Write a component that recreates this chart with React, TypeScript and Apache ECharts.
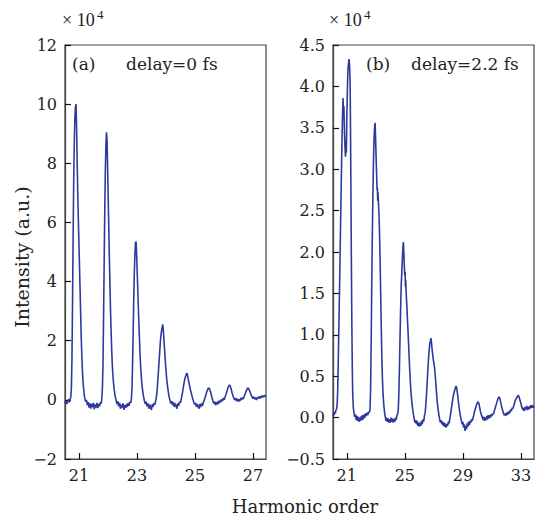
import React, { useEffect, useRef } from "react";
import * as echarts from "echarts";

// Panel (a): delay = 0 fs  — [harmonic order, intensity ×10^4]
const spectrumA: [number, number][] = [
  [20.52,-0.12],[20.55,-0.04],[20.58,-0.14],[20.61,-0.06],[20.64,0.02],[20.67,-0.08],[20.70,0.04],[20.72,0.1],[20.74,0.4],[20.76,1.4],
  [20.78,3.3],[20.80,5.5],[20.82,7.4],[20.84,8.7],[20.86,9.5],[20.88,9.9],[20.90,10.0],[20.92,9.2],[20.94,8.0],[20.96,7.0],
  [20.98,6.1],[21.00,5.3],[21.02,4.5],[21.04,3.7],[21.06,2.9],[21.08,2.1],[21.10,1.5],[21.12,1.0],[21.14,0.65],[21.16,0.4],
  [21.18,0.2],[21.20,0.06],[21.23,-0.06],[21.26,0.0],[21.29,-0.18],[21.32,-0.08],[21.35,-0.26],[21.38,-0.12],[21.41,-0.3],[21.44,-0.14],
  [21.47,-0.24],[21.50,-0.1],[21.53,-0.32],[21.56,-0.16],[21.59,-0.26],[21.62,-0.1],[21.65,-0.28],[21.68,-0.14],[21.71,-0.22],[21.74,-0.08],
  [21.77,-0.12],[21.79,0.05],[21.81,0.4],[21.83,1.2],[21.85,2.8],[21.87,4.6],[21.89,6.3],[21.91,7.7],[21.93,8.6],[21.95,9.05],
  [21.97,8.8],[21.99,7.8],[22.01,6.8],[22.03,5.8],[22.05,4.8],[22.07,3.9],[22.09,3.0],[22.11,2.3],[22.13,1.7],[22.15,1.2],
  [22.17,0.85],[22.19,0.6],[22.21,0.4],[22.23,0.25],[22.25,0.12],[22.28,0.0],[22.31,-0.14],[22.34,-0.04],[22.37,-0.22],[22.40,-0.1],
  [22.43,-0.3],[22.46,-0.16],[22.49,-0.26],[22.52,-0.12],[22.55,-0.34],[22.58,-0.18],[22.61,-0.28],[22.64,-0.14],[22.67,-0.24],[22.70,-0.1],
  [22.73,-0.2],[22.76,-0.06],[22.79,-0.1],[22.81,0.05],[22.83,0.4],[22.85,1.2],[22.87,2.3],[22.89,3.4],[22.91,4.3],[22.93,4.9],
  [22.95,5.3],[22.97,5.35],[22.99,4.9],[23.01,4.3],[23.03,3.7],[23.05,3.1],[23.07,2.5],[23.09,2.0],[23.11,1.5],[23.13,1.1],
  [23.15,0.8],[23.17,0.55],[23.19,0.36],[23.21,0.22],[23.23,0.1],[23.26,-0.04],[23.29,-0.14],[23.32,-0.06],[23.35,-0.22],[23.38,-0.12],
  [23.41,-0.3],[23.44,-0.16],[23.47,-0.26],[23.50,-0.34],[23.53,-0.14],[23.56,-0.24],[23.59,-0.1],[23.62,-0.16],[23.65,-0.02],[23.67,0.08],
  [23.69,0.25],[23.71,0.5],[23.73,0.8],[23.75,1.1],[23.77,1.4],[23.79,1.7],[23.81,2.0],[23.83,2.2],[23.85,2.35],[23.87,2.45],
  [23.89,2.55],[23.91,2.35],[23.93,2.05],[23.95,1.75],[23.97,1.45],[23.99,1.15],[24.01,0.9],[24.03,0.68],[24.05,0.5],[24.07,0.35],
  [24.09,0.22],[24.11,0.1],[24.14,-0.02],[24.17,-0.12],[24.20,-0.04],[24.23,-0.18],[24.26,-0.08],[24.29,-0.24],[24.32,-0.12],[24.35,-0.2],
  [24.38,-0.3],[24.41,-0.12],[24.44,-0.2],[24.47,-0.06],[24.50,-0.1],[24.53,0.04],[24.56,0.18],[24.59,0.36],[24.62,0.55],[24.65,0.7],
  [24.68,0.8],[24.71,0.88],[24.73,0.9],[24.75,0.8],[24.78,0.65],[24.81,0.5],[24.84,0.36],[24.87,0.24],[24.90,0.12],[24.93,0.02],
  [24.96,-0.08],[24.99,-0.16],[25.02,-0.1],[25.05,-0.24],[25.08,-0.14],[25.11,-0.22],[25.14,-0.3],[25.17,-0.14],[25.20,-0.24],[25.23,-0.12],
  [25.26,-0.2],[25.29,-0.08],[25.32,-0.02],[25.35,0.08],[25.38,0.18],[25.41,0.28],[25.44,0.35],[25.47,0.4],[25.50,0.38],[25.53,0.3],
  [25.56,0.18],[25.59,0.06],[25.62,-0.04],[25.65,-0.12],[25.68,-0.06],[25.71,-0.18],[25.74,-0.08],[25.77,-0.16],[25.80,-0.04],[25.83,-0.12],
  [25.86,-0.02],[25.89,-0.08],[25.92,0.02],[25.95,-0.04],[25.98,0.06],[26.01,0.0],[26.04,0.1],[26.07,0.18],[26.10,0.28],[26.13,0.38],
  [26.16,0.46],[26.19,0.5],[26.22,0.46],[26.25,0.36],[26.28,0.24],[26.31,0.14],[26.34,0.06],[26.37,0.0],[26.40,0.06],[26.43,-0.04],
  [26.46,0.04],[26.49,-0.06],[26.52,0.02],[26.55,-0.04],[26.58,0.06],[26.61,0.0],[26.64,0.08],[26.67,0.04],[26.70,0.12],[26.73,0.2],
  [26.76,0.28],[26.79,0.35],[26.82,0.4],[26.85,0.38],[26.88,0.32],[26.91,0.24],[26.94,0.16],[26.97,0.1],[27.00,0.04],[27.03,0.1],
  [27.06,0.02],[27.09,0.08],[27.12,0.0],[27.15,0.06],[27.18,0.1],[27.21,0.04],[27.24,0.12],[27.27,0.06],[27.30,0.14],[27.33,0.08],
  [27.36,0.14],[27.39,0.1],[27.42,0.16],[27.45,0.12],
];

// Panel (b): delay = 2.2 fs — [harmonic order, intensity ×10^4]
const spectrumB: [number, number][] = [
  [20.05,0.02],[20.09,0.05],[20.13,0.03],[20.17,0.07],[20.21,0.05],[20.25,0.09],[20.29,0.1],[20.33,0.14],[20.37,0.3],[20.41,0.65],
  [20.46,1.15],[20.51,1.65],[20.56,2.2],[20.61,2.75],[20.66,3.25],[20.70,3.6],[20.74,3.86],[20.77,3.7],[20.80,3.76],[20.84,3.45],
  [20.88,3.25],[20.91,3.15],[20.94,3.3],[20.97,3.2],[21.00,3.6],[21.04,3.95],[21.08,4.2],[21.12,4.28],[21.16,4.33],[21.20,4.22],
  [21.23,4.05],[21.26,3.4],[21.29,2.6],[21.32,1.8],[21.35,1.1],[21.38,0.6],[21.41,0.28],[21.45,0.12],[21.50,0.05],[21.55,0.01],
  [21.60,0.04],[21.65,-0.03],[21.70,0.02],[21.75,-0.04],[21.80,0.01],[21.85,-0.05],[21.90,0.0],[21.95,-0.04],[22.00,0.02],[22.05,-0.03],
  [22.10,0.03],[22.15,-0.02],[22.20,0.04],[22.25,0.0],[22.30,0.05],[22.35,0.02],[22.40,0.06],[22.45,0.03],[22.50,0.07],[22.55,0.06],
  [22.60,0.1],[22.64,0.35],[22.68,0.9],[22.72,1.6],[22.76,2.2],[22.80,2.7],[22.84,3.1],[22.88,3.38],[22.92,3.52],[22.95,3.56],
  [22.98,3.4],[23.02,3.15],[23.06,2.9],[23.09,2.75],[23.11,2.78],[23.13,2.62],[23.15,2.72],[23.18,2.6],[23.22,2.45],[23.26,2.2],
  [23.30,1.85],[23.34,1.45],[23.38,1.05],[23.42,0.7],[23.46,0.45],[23.50,0.28],[23.55,0.15],[23.60,0.07],[23.65,0.01],[23.70,-0.04],
  [23.75,0.0],[23.80,-0.05],[23.85,-0.01],[23.90,-0.06],[23.95,-0.02],[24.00,-0.06],[24.05,0.0],[24.10,-0.05],[24.15,-0.01],[24.20,-0.06],
  [24.25,-0.02],[24.30,-0.05],[24.35,0.0],[24.40,-0.03],[24.45,0.02],[24.50,0.04],[24.55,0.1],[24.59,0.3],[24.63,0.62],[24.67,0.98],
  [24.71,1.32],[24.75,1.6],[24.79,1.75],[24.83,1.92],[24.87,2.06],[24.90,2.12],[24.93,2.0],[24.96,1.85],[24.99,1.72],[25.02,1.76],
  [25.04,1.58],[25.06,1.66],[25.09,1.52],[25.13,1.38],[25.17,1.22],[25.21,1.08],[25.25,0.92],[25.29,0.76],[25.33,0.6],[25.37,0.46],
  [25.41,0.34],[25.45,0.25],[25.50,0.16],[25.55,0.09],[25.60,0.03],[25.65,-0.02],[25.70,-0.06],[25.75,-0.03],[25.80,-0.08],[25.85,-0.04],
  [25.90,-0.1],[25.95,-0.06],[26.00,-0.11],[26.05,-0.06],[26.10,-0.1],[26.15,-0.04],[26.20,-0.08],[26.25,-0.02],[26.30,-0.05],[26.35,0.02],
  [26.40,0.06],[26.45,0.16],[26.50,0.3],[26.55,0.46],[26.60,0.62],[26.65,0.76],[26.70,0.86],[26.75,0.92],[26.80,0.96],[26.84,0.9],
  [26.88,0.82],[26.92,0.76],[26.96,0.7],[27.00,0.66],[27.05,0.6],[27.10,0.5],[27.15,0.38],[27.20,0.26],[27.25,0.16],[27.30,0.09],
  [27.35,0.03],[27.40,-0.02],[27.45,-0.06],[27.50,-0.03],[27.55,-0.08],[27.60,-0.05],[27.65,-0.1],[27.70,-0.06],[27.75,-0.11],[27.80,-0.07],
  [27.85,-0.12],[27.90,-0.08],[27.95,-0.1],[28.00,-0.05],[28.05,-0.07],[28.10,-0.01],[28.15,0.04],[28.20,0.1],[28.25,0.16],[28.30,0.22],
  [28.35,0.27],[28.40,0.31],[28.45,0.34],[28.50,0.37],[28.54,0.38],[28.58,0.35],[28.62,0.3],[28.66,0.24],[28.70,0.18],[28.75,0.11],
  [28.80,0.05],[28.85,0.0],[28.90,-0.04],[28.95,-0.08],[29.00,-0.05],[29.05,-0.12],[29.10,-0.08],[29.15,-0.16],[29.20,-0.1],[29.25,-0.14],
  [29.30,-0.07],[29.35,-0.11],[29.40,-0.05],[29.45,-0.09],[29.50,-0.04],[29.55,-0.06],[29.60,-0.02],[29.65,-0.04],[29.70,0.0],[29.75,0.03],
  [29.80,0.07],[29.85,0.1],[29.90,0.13],[29.95,0.16],[30.00,0.18],[30.05,0.19],[30.10,0.17],[30.15,0.13],[30.20,0.08],[30.25,0.05],
  [30.30,0.02],[30.35,0.0],[30.40,-0.03],[30.45,0.01],[30.50,-0.04],[30.55,0.0],[30.60,-0.03],[30.65,0.02],[30.70,-0.02],[30.75,0.03],
  [30.80,-0.01],[30.85,0.03],[30.90,0.0],[30.95,0.04],[31.00,0.02],[31.05,0.05],[31.10,0.04],[31.15,0.07],[31.20,0.1],[31.25,0.13],
  [31.30,0.16],[31.35,0.19],[31.40,0.22],[31.45,0.24],[31.50,0.25],[31.55,0.23],[31.60,0.19],[31.65,0.15],[31.70,0.11],[31.75,0.08],
  [31.80,0.05],[31.85,0.03],[31.90,0.05],[31.95,0.02],[32.00,0.06],[32.05,0.03],[32.10,0.07],[32.15,0.04],[32.20,0.08],[32.25,0.06],
  [32.30,0.1],[32.35,0.08],[32.40,0.12],[32.45,0.11],[32.50,0.14],[32.55,0.17],[32.60,0.2],[32.65,0.22],[32.70,0.24],[32.75,0.25],
  [32.80,0.27],[32.85,0.26],[32.90,0.23],[32.95,0.2],[33.00,0.17],[33.05,0.13],[33.10,0.11],[33.15,0.09],[33.20,0.12],[33.25,0.08],
  [33.30,0.13],[33.35,0.1],[33.40,0.14],[33.45,0.09],[33.50,0.13],[33.55,0.1],[33.60,0.14],[33.65,0.11],[33.70,0.15],[33.75,0.12],
  [33.80,0.15],[33.85,0.12],[33.90,0.14],
];

const xTicksA = [21, 23, 25, 27];
const xTicksB = [21, 25, 29, 33];
const xRangeA = [20.52, 27.45];
const xRangeB = [20.05, 33.9];
const yRangeA = [-2, 12];
const yRangeB = [-0.5, 4.5];
const yStepA = 2;
const yStepB = 0.5;

const labelA = ["(a)", "delay=0 fs"];
const labelB = ["(b)", "delay=2.2 fs"];
const xTitle = "Harmonic order";
const yTitle = "Intensity (a.u.)";
const scaleText = "\u00d7 10";
const scaleExp = "4";

const FONT = "DejaVu Serif";
const FONT2 = "Liberation Serif";
const TEXT = "#222";
const LINE = "#2d3a9c";

function minus(s: string) {
  return s.replace("-", "\u2212");
}

export default function App() {
  const ref = useRef<HTMLDivElement>(null);
  useEffect(() => {
    if (!ref.current) return;
    const chart = echarts.init(ref.current, undefined, { renderer: "svg" });
    const axisLine = { show: true, onZero: false, lineStyle: { color: "#444", width: 1.2 } };
    const tick = { show: true, inside: true, length: 6, lineStyle: { color: "#111", width: 1.2 } };
    const lbl = { color: TEXT, fontFamily: FONT, fontSize: 16 };
    const grids = [
      { left: 65, top: 45, width: 201, height: 414, show: true, borderColor: "#444", borderWidth: 1.2, backgroundColor: "transparent" },
      { left: 333, top: 45, width: 201, height: 414, show: true, borderColor: "#444", borderWidth: 1.2, backgroundColor: "transparent" },
    ];
    const mkX = (i: number, range: number[], ticks: number[]) => ({
      type: "value",
      gridIndex: i,
      min: range[0],
      max: range[1],
      splitLine: { show: false },
      axisLine,
      axisTick: { ...tick, customValues: ticks },
      axisLabel: { ...lbl, margin: 8, customValues: ticks, formatter: (v: number) => String(v) },
    });
    const mkY = (i: number, range: number[], step: number, dec: number) => ({
      type: "value",
      gridIndex: i,
      min: range[0],
      max: range[1],
      interval: step,
      splitLine: { show: false },
      axisLine,
      axisTick: tick,
      axisLabel: { ...lbl, margin: 8, formatter: (v: number) => minus(v.toFixed(dec)) },
    });
    const txt = (x: number, y: number, s: string, size: number, extra: any = {}) => ({
      type: "text",
      x,
      y,
      style: { text: s, fill: TEXT, fontFamily: FONT, fontSize: size, verticalAlign: "middle", align: "left", ...extra },
      z: 10,
    });
    chart.setOption({
      animation: false,
      backgroundColor: "#fff",
      grid: grids,
      xAxis: [mkX(0, xRangeA, xTicksA), mkX(1, xRangeB, xTicksB)],
      yAxis: [mkY(0, yRangeA, yStepA, 0), mkY(1, yRangeB, yStepB, 1)],
      series: [
        {
          type: "line",
          xAxisIndex: 0,
          yAxisIndex: 0,
          data: spectrumA,
          showSymbol: false,
          clip: true,
          lineStyle: { color: LINE, width: 1.6 },
          itemStyle: { color: LINE },
        },
        {
          type: "line",
          xAxisIndex: 1,
          yAxisIndex: 1,
          data: spectrumB,
          showSymbol: false,
          clip: true,
          lineStyle: { color: LINE, width: 1.6 },
          itemStyle: { color: LINE },
        },
      ],
      graphic: [
        txt(62, 20, scaleText, 18, { fontFamily: FONT2 }),
        txt(97, 14, scaleExp, 13, { fontFamily: FONT2 }),
        txt(329, 20, scaleText, 18, { fontFamily: FONT2 }),
        txt(364, 14, scaleExp, 13, { fontFamily: FONT2 }),
        txt(72, 64, labelA[0], 17),
        txt(126, 64, labelA[1], 17),
        txt(366, 64, labelB[0], 17),
        txt(411, 64, labelB[1], 17),
        txt(305, 506, xTitle, 18, { align: "center" }),
        {
          type: "text",
          x: 22,
          y: 257,
          rotation: Math.PI / 2,
          style: { text: yTitle, fill: TEXT, fontFamily: FONT, fontSize: 19, align: "center", verticalAlign: "middle" },
          z: 10,
        },
      ],
    });
    return () => chart.dispose();
  }, []);
  return <div ref={ref} style={{ position: "fixed", left: 0, top: 0, width: 535, height: 519 }} />;
}
